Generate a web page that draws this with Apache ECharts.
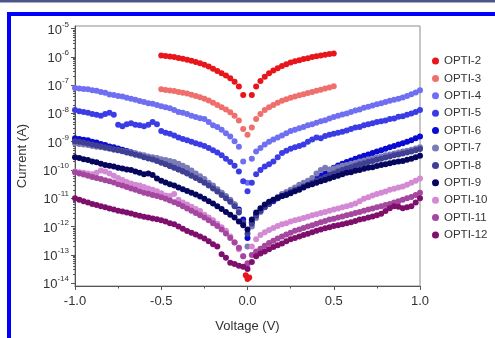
<!DOCTYPE html>
<html>
<head>
<meta charset="utf-8">
<script src="https://cdn.jsdelivr.net/npm/echarts@6/dist/echarts.min.js"></script>
<style>html,body{margin:0;padding:0;background:#fff;}#c{width:495px;height:338px;}</style>
</head>
<body>
<div id="c"></div>
<script>
// Voltage sweep (V)
const voltage = [-1,-0.975,-0.95,-0.925,-0.9,-0.875,-0.85,-0.825,-0.8,-0.775,-0.75,-0.725,-0.7,-0.675,-0.65,-0.625,-0.6,-0.575,-0.55,-0.525,-0.5,-0.475,-0.45,-0.425,-0.4,-0.375,-0.35,-0.325,-0.3,-0.275,-0.25,-0.225,-0.2,-0.175,-0.15,-0.125,-0.1,-0.075,-0.05,-0.025,0,0.025,0.05,0.075,0.1,0.125,0.15,0.175,0.2,0.225,0.25,0.275,0.3,0.325,0.35,0.375,0.4,0.425,0.45,0.475,0.5,0.525,0.55,0.575,0.6,0.625,0.65,0.675,0.7,0.725,0.75,0.775,0.8,0.825,0.85,0.875,0.9,0.925,0.95,0.975,1];
const voltageHalf = [-0.5,-0.475,-0.45,-0.425,-0.4,-0.375,-0.35,-0.325,-0.3,-0.275,-0.25,-0.225,-0.2,-0.175,-0.15,-0.125,-0.1,-0.075,-0.05,-0.025,0,0.025,0.05,0.075,0.1,0.125,0.15,0.175,0.2,0.225,0.25,0.275,0.3,0.325,0.35,0.375,0.4,0.425,0.45,0.475,0.5];
const voltageOpti2 = [-0.5,-0.475,-0.45,-0.425,-0.4,-0.375,-0.35,-0.325,-0.3,-0.275,-0.25,-0.225,-0.2,-0.175,-0.15,-0.125,-0.1,-0.075,-0.05,-0.025,-0.01,0,0.01,0.025,0.05,0.075,0.1,0.125,0.15,0.175,0.2,0.225,0.25,0.275,0.3,0.325,0.35,0.375,0.4,0.425,0.45,0.475,0.5];

// log10(Current / A)
const opti2 = [-5.95,-5.97,-5.99,-6.01,-6.04,-6.07,-6.10,-6.14,-6.18,-6.23,-6.28,-6.34,-6.42,-6.50,-6.58,-6.66,-6.76,-6.88,-7.05,-7.35,
  -13.72,-13.85,-13.80,
  -7.35,-7.05,-6.85,-6.70,-6.58,-6.48,-6.40,-6.32,-6.26,-6.20,-6.16,-6.12,-6.08,-6.05,-6.01,-5.98,-5.95,-5.93,-5.90,-5.88];
const opti3 = [-7.15,-7.17,-7.19,-7.21,-7.24,-7.27,-7.30,-7.34,-7.38,-7.43,-7.48,-7.54,-7.62,-7.70,-7.78,-7.86,-7.96,-8.08,-8.25,-8.55,
  -8.75,
  -8.50,-8.20,-8.02,-7.88,-7.78,-7.70,-7.62,-7.55,-7.50,-7.45,-7.40,-7.36,-7.32,-7.28,-7.24,-7.20,-7.16,-7.12,-7.08,-7.04];
const opti4 = [-7.10,-7.12,-7.14,-7.15,-7.18,-7.20,-7.24,-7.27,-7.33,-7.35,
  -7.38,-7.40,-7.45,-7.48,-7.52,-7.56,-7.60,-7.64,-7.66,-7.70,
  -7.75,-7.78,-7.82,-7.88,-7.95,-7.98,-8.02,-8.08,-8.13,-8.17,
  -8.20,-8.30,-8.42,-8.48,-8.58,-8.70,-8.82,-8.98,-9.18,-9.70,
  -10.45,-9.60,-9.35,-9.22,-9.10,-9.00,-8.92,-8.85,-8.78,-8.70,
  -8.62,-8.58,-8.52,-8.48,-8.42,-8.38,-8.33,-8.28,-8.24,-8.18,
  -8.13,-8.08,-8.04,-8.00,-7.95,-7.90,-7.86,-7.80,-7.76,-7.72,
  -7.68,-7.64,-7.60,-7.55,-7.52,-7.48,-7.44,-7.38,-7.32,-7.26,
  -7.18];
const opti5 = [-7.88,-7.92,-7.95,-7.98,-8.02,-8.05,-8.08,-8.02,-7.98,-8.05,
  -8.40,-8.45,-8.38,-8.35,-8.40,-8.42,-8.45,-8.40,-8.30,-8.38,
  -8.62,-8.68,-8.72,-8.78,-8.85,-8.90,-8.95,-9.00,-9.05,-9.10,
  -9.15,-9.22,-9.30,-9.38,-9.48,-9.60,-9.72,-9.85,-10.05,-10.40,
  -10.75,-10.45,-10.15,-10.00,-9.88,-9.80,-9.70,-9.55,-9.40,-9.32,
  -9.25,-9.20,-9.15,-9.10,-9.00,-8.92,-8.85,-8.88,-8.80,-8.75,
  -8.72,-8.68,-8.65,-8.60,-8.55,-8.50,-8.48,-8.42,-8.38,-8.35,
  -8.30,-8.28,-8.25,-8.20,-8.18,-8.12,-8.10,-8.05,-8.00,-7.95,
  -7.88];
const opti6 = [-8.88,-8.90,-8.93,-8.95,-9.00,-9.03,-9.08,-9.12,-9.17,-9.20,
  -9.24,-9.28,-9.33,-9.37,-9.42,-9.46,-9.52,-9.56,-9.60,-9.65,
  -9.72,-9.78,-9.85,-9.90,-9.97,-10.03,-10.10,-10.18,-10.25,-10.32,
  -10.40,-10.50,-10.60,-10.70,-10.82,-10.95,-11.08,-11.22,-11.40,-11.75,
  -12.40,-11.85,-11.60,-11.45,-11.32,-11.20,-11.10,-11.00,-10.92,-10.85,
  -10.78,-10.70,-10.62,-10.55,-10.48,-10.40,-10.30,-10.20,-10.12,-10.02,
  -9.92,-9.84,-9.78,-9.72,-9.66,-9.60,-9.55,-9.50,-9.45,-9.40,
  -9.35,-9.30,-9.25,-9.20,-9.15,-9.10,-9.05,-9.00,-8.95,-8.88,
  -8.82];
const opti7 = [-9.05,-9.08,-9.10,-9.12,-9.15,-9.18,-9.20,-9.22,-9.25,-9.28,
  -9.30,-9.33,-9.36,-9.40,-9.42,-9.45,-9.48,-9.52,-9.55,-9.58,
  -9.62,-9.65,-9.68,-9.72,-9.78,-9.85,-9.92,-10.02,-10.12,-10.22,
  -10.32,-10.45,-10.55,-10.68,-10.80,-10.92,-11.05,-11.22,-11.45,-11.90,
  -12.70,-12.00,-11.70,-11.48,-11.30,-11.15,-11.05,-10.95,-10.85,-10.78,
  -10.70,-10.62,-10.52,-10.45,-10.38,-10.28,-10.12,-10.00,-9.92,-9.98,
  -9.95,-9.90,-9.85,-9.82,-9.78,-9.74,-9.70,-9.66,-9.62,-9.60,
  -9.56,-9.52,-9.48,-9.45,-9.42,-9.38,-9.35,-9.32,-9.28,-9.24,
  -9.20];
const opti8 = [-8.98,-9.00,-9.03,-9.06,-9.10,-9.13,-9.16,-9.20,-9.23,-9.27,
  -9.30,-9.34,-9.38,-9.42,-9.46,-9.50,-9.55,-9.59,-9.63,-9.68,
  -9.74,-9.80,-9.86,-9.92,-9.98,-10.05,-10.12,-10.20,-10.28,-10.36,
  -10.45,-10.55,-10.65,-10.76,-10.88,-11.00,-11.12,-11.28,-11.50,-11.85,
  -12.25,-11.90,-11.62,-11.45,-11.30,-11.18,-11.08,-11.00,-10.92,-10.85,
  -10.78,-10.72,-10.65,-10.58,-10.52,-10.45,-10.38,-10.32,-10.25,-10.18,
  -10.12,-10.05,-10.00,-9.95,-9.90,-9.85,-9.80,-9.76,-9.72,-9.68,
  -9.64,-9.60,-9.56,-9.52,-9.48,-9.45,-9.42,-9.38,-9.35,-9.30,
  -9.26];
const opti9 = [-9.55,-9.58,-9.62,-9.65,-9.70,-9.73,-9.78,-9.82,-9.85,-9.88,
  -9.92,-9.95,-9.98,-10.00,-10.05,-10.10,-10.15,-10.12,-10.18,-10.30,
  -10.38,-10.44,-10.50,-10.55,-10.62,-10.68,-10.74,-10.80,-10.87,-10.94,
  -11.02,-11.10,-11.18,-11.28,-11.38,-11.48,-11.58,-11.68,-11.82,-11.95,
  -12.10,-11.75,-11.50,-11.35,-11.22,-11.12,-11.05,-10.98,-10.92,-10.88,
  -10.82,-10.75,-10.70,-10.62,-10.55,-10.50,-10.45,-10.40,-10.35,-10.30,
  -10.25,-10.20,-10.15,-10.10,-10.08,-10.03,-10.00,-9.96,-9.92,-9.90,
  -9.86,-9.82,-9.80,-9.76,-9.73,-9.70,-9.68,-9.64,-9.60,-9.55,
  -9.50];
const opti10 = [-10.05,-10.08,-10.10,-10.12,-10.15,-10.10,-10.02,-10.05,-10.12,-10.20,
  -10.28,-10.35,-10.42,-10.48,-10.52,-10.55,-10.60,-10.65,-10.70,-10.75,
  -10.82,-10.90,-10.92,-10.85,-11.05,-11.15,-11.22,-11.30,-11.38,-11.45,
  -11.58,-11.68,-11.78,-11.90,-12.02,-12.15,-12.35,-12.55,-12.80,-13.05,
  -13.35,-12.70,-12.45,-12.30,-12.20,-12.12,-12.05,-11.98,-11.92,-11.88,
  -11.82,-11.78,-11.74,-11.70,-11.65,-11.60,-11.56,-11.52,-11.48,-11.44,
  -11.40,-11.36,-11.32,-11.28,-11.24,-11.18,-11.10,-11.02,-10.96,-10.90,
  -10.85,-10.80,-10.76,-10.70,-10.66,-10.62,-10.58,-10.52,-10.45,-10.38,
  -10.30];
const opti11 = [-10.08,-10.12,-10.16,-10.20,-10.25,-10.28,-10.32,-10.36,-10.40,-10.44,
  -10.50,-10.55,-10.60,-10.65,-10.70,-10.75,-10.80,-10.84,-10.88,-10.92,
  -10.96,-11.02,-11.08,-11.14,-11.20,-11.28,-11.36,-11.44,-11.52,-11.60,
  -11.68,-11.78,-11.88,-11.98,-12.10,-12.24,-12.40,-12.56,-12.75,-13.05,
  -13.30,-13.00,-12.88,-12.78,-12.68,-12.58,-12.50,-12.42,-12.35,-12.28,
  -12.22,-12.15,-12.10,-12.05,-12.00,-11.95,-11.90,-11.85,-11.80,-11.75,
  -11.72,-11.68,-11.64,-11.60,-11.56,-11.52,-11.48,-11.44,-11.40,-11.36,
  -11.32,-11.28,-11.24,-11.20,-11.15,-11.10,-11.05,-11.00,-10.95,-10.88,
  -10.80];
const opti12 = [-11.00,-11.05,-11.10,-11.15,-11.20,-11.24,-11.28,-11.32,-11.36,-11.40,
  -11.44,-11.47,-11.50,-11.54,-11.58,-11.62,-11.65,-11.68,-11.71,-11.74,
  -11.78,-11.82,-11.88,-11.92,-12.00,-12.08,-12.16,-12.22,-12.28,-12.35,
  -12.42,-12.52,-12.62,-12.70,-12.98,-13.10,-13.28,-13.32,-13.38,-13.42,
  -13.50,-13.25,-13.05,-12.95,-12.88,-12.80,-12.72,-12.66,-12.60,-12.52,
  -12.45,-12.40,-12.35,-12.30,-12.25,-12.20,-12.15,-12.10,-12.06,-12.02,
  -11.98,-11.95,-11.92,-11.88,-11.85,-11.80,-11.75,-11.72,-11.68,-11.64,
  -11.60,-11.55,-11.45,-11.35,-11.28,-11.30,-11.35,-11.32,-11.28,-11.15,
  -11.00];

const seriesNames = ['OPTI-2','OPTI-3','OPTI-4','OPTI-5','OPTI-6','OPTI-7','OPTI-8','OPTI-9','OPTI-10','OPTI-11','OPTI-12'];
const seriesColors = ['#e8161b','#ef6f6c','#6f6ff2','#3c3ce6','#0a0ad2','#7b7bb8','#3f3f94','#06065e','#d489d4','#a5479f','#7f0f6c'];

// Axis ticks (decade exponents)
const xTicks = [-1.0, -0.5, 0.0, 0.5, 1.0];
const yDecades = [-14,-13,-12,-11,-10,-9,-8,-7,-6,-5];

const seriesX = [voltageOpti2, voltageHalf, voltage, voltage, voltage, voltage, voltage, voltage, voltage, voltage, voltage];
const seriesY = [opti2, opti3, opti4, opti5, opti6, opti7, opti8, opti9, opti10, opti11, opti12];

const yMinorTicks = [];
yDecades.forEach(d => { if (d < -5) { for (let k = 2; k <= 9; k++) yMinorTicks.push(d + Math.log10(k)); } });

const FONT = 'Liberation Sans, Arial, sans-serif';
const chart = echarts.init(document.getElementById('c'), null, {renderer: 'canvas'});

const series = seriesNames.map((name, s) => ({
  name: name,
  type: 'scatter',
  symbol: 'circle',
  symbolSize: 6,
  itemStyle: {color: seriesColors[s], opacity: 1},
  data: seriesX[s].map((v, i) => [v, seriesY[s][i]]),
  emphasis: {disabled: true}
}));

chart.setOption({
  animation: false,
  graphic: [
    {type: 'rect', shape: {x: 0, y: 0, width: 495, height: 2}, style: {fill: '#4d5489'}, z: 100},
    {type: 'rect', shape: {x: 0, y: 2, width: 495, height: 1}, style: {fill: '#a6aac6'}, z: 100},
    {type: 'rect', shape: {x: 7, y: 12, width: 488, height: 4}, style: {fill: '#0000ff'}, z: 100},
    {type: 'rect', shape: {x: 7, y: 12, width: 4, height: 326}, style: {fill: '#0000ff'}, z: 100}
  ],
  grid: {left: 75, right: 75, top: 26, bottom: 50, show: true, borderColor: '#8c8c8c', borderWidth: 1},
  legend: {
    data: seriesNames,
    orient: 'vertical',
    left: 432,
    top: 55,
    padding: 0,
    itemGap: 5.4,
    itemWidth: 7,
    itemHeight: 7,
    icon: 'circle',
    textStyle: {fontSize: 11.5, color: '#333', fontFamily: FONT, lineHeight: 12}
  },
  xAxis: {
    type: 'value', min: -1, max: 1, interval: 0.5,
    axisLine: {show: true, onZero: false, lineStyle: {color: '#555', width: 1}},
    axisTick: {show: true, inside: false, length: 4, lineStyle: {color: '#555'}},
    minorTick: {show: true, splitNumber: 2, length: 2.5, lineStyle: {color: '#555'}},
    splitLine: {show: false},
    axisLabel: {formatter: v => (Math.abs(v) < 1e-9 ? 0 : v).toFixed(1), fontSize: 13, color: '#333', margin: 9, fontFamily: FONT},
    name: 'Voltage (V)', nameLocation: 'middle', nameGap: 34,
    nameTextStyle: {fontSize: 13, color: '#333', fontFamily: FONT}
  },
  yAxis: [{
    type: 'value', min: -14.1, max: -4.91, position: 'left',
    axisLine: {show: true, onZero: false, lineStyle: {color: '#555', width: 1}},
    axisTick: {show: true, inside: false, length: 4, customValues: yDecades, lineStyle: {color: '#555'}},
    splitLine: {show: false},
    axisLabel: {
      customValues: yDecades, margin: 6, fontFamily: FONT,
      formatter: v => '{a|10}{b|' + v + '}',
      rich: {
        a: {fontSize: 13, color: '#333', fontFamily: FONT, lineHeight: 16, verticalAlign: 'bottom'},
        b: {fontSize: 8, color: '#333', fontFamily: FONT, lineHeight: 16, verticalAlign: 'top', padding: [0, 0, 0, 0]}
      }
    },
    name: 'Current (A)', nameLocation: 'middle', nameGap: 46, nameRotate: 90,
    nameTextStyle: {fontSize: 13, color: '#333', fontFamily: FONT}
  }, {
    type: 'value', min: -14.1, max: -4.91, position: 'left',
    axisLine: {show: false, onZero: false},
    axisTick: {show: true, inside: false, length: 2, customValues: yMinorTicks, lineStyle: {color: '#555'}},
    axisLabel: {show: false},
    splitLine: {show: false}
  }],
  series: series
});
</script>
</body>
</html>
